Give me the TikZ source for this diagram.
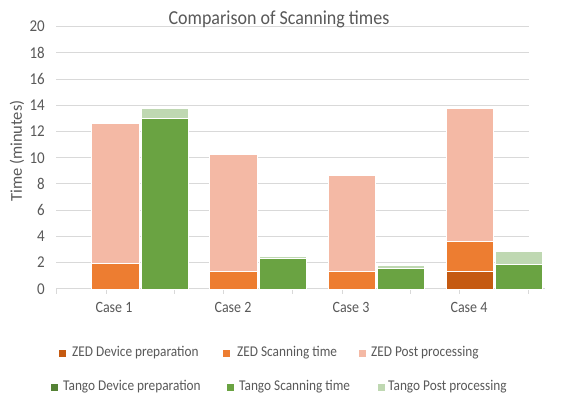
\documentclass[tikz,border=0pt]{standalone}
\usepackage{fontspec}
\setmainfont{Carlito}
\definecolor{txt}{HTML}{595959}
\definecolor{grid}{HTML}{D9D9D9}
\definecolor{zdev}{HTML}{C55A11}
\definecolor{zscan}{HTML}{ED7D31}
\definecolor{zpost}{HTML}{F4B9A5}
\definecolor{tdev}{HTML}{548235}
\definecolor{tscan}{HTML}{6AA342}
\definecolor{tpost}{HTML}{BFD8B2}
\tikzset{
  lblbase/.style={text=txt, inner sep=0pt},
  lbl/.style={lblbase, font=\fontsize{14}{16}\selectfont, yscale=1.12},
  ylbl/.style={lblbase, font=\fontsize{15}{17}\selectfont, yscale=1.1, anchor=east},
  leg/.style={lblbase, font=\fontsize{13.3}{15}\selectfont, yscale=1.12, anchor=west},
  legsq/.style={minimum size=7pt, inner sep=0pt},
  gridln/.style={draw=grid, line width=1pt},
  bar/.style={draw=white, line width=0.4pt}
}
\begin{document}
\begin{tikzpicture}[x=1pt,y=-1pt]
\useasboundingbox (0,0) rectangle (571,394);
\fill[white] (0,0) rectangle (571,394);
% gridlines and y labels
\begin{scope}[shift={(0,288.7)}, y=13.1pt]
  \foreach \v in {2,4,...,20} {\draw[gridln] (56,\v) -- (529,\v);}
  \foreach \v in {0,2,...,20} {\node[ylbl] (y\v) at (45,\v) {\v};}
  \draw[gridln] (56,0) -- (545,0);
  \foreach \t in {56,106,174,223,292,342,410,459,528} {\draw[gridln] (\t,0) -- (\t,-0.42);}
  % Case 1
  \fill[zscan,bar] (91,0) rectangle (139,1.94);
  \fill[zpost,bar] (91,1.94) rectangle (139,12.6);
  \fill[tscan,bar] (141,0) rectangle (188,13.03);
  \fill[tpost,bar] (141,13.03) rectangle (188,13.8);
  % Case 2
  \fill[zscan,bar] (209,0) rectangle (257,1.35);
  \fill[zpost,bar] (209,1.35) rectangle (257,10.26);
  \fill[tscan,bar] (259,0) rectangle (306,2.34);
  \fill[tpost,bar] (259,2.34) rectangle (306,2.47);
  % Case 3
  \fill[zscan,bar] (328,0) rectangle (375,1.35);
  \fill[zpost,bar] (328,1.35) rectangle (375,8.68);
  \fill[tscan,bar] (377,0) rectangle (424,1.6);
  \fill[tpost,bar] (377,1.6) rectangle (424,1.78);
  % Case 4
  \fill[zdev,bar] (446,0) rectangle (493,1.35);
  \fill[zscan,bar] (446,1.35) rectangle (493,3.59);
  \fill[zpost,bar] (446,3.59) rectangle (493,13.77);
  \fill[tscan,bar] (495,0) rectangle (542,1.86);
  \fill[tpost,bar] (495,1.86) rectangle (542,2.83);
\end{scope}
% title
\node[lblbase, font=\fontsize{18}{20}\selectfont, yscale=1.1] (title) at (279,19) {Comparison of Scanning times};
% y axis title
\node[lblbase, font=\fontsize{16.5}{18}\selectfont, rotate=90] (ytitle) at (17,151) {Time (minutes)};
% category labels
\node[lbl] (c1) at (114,307) {Case 1};
\node[lbl] (c2) at (233,307) {Case 2};
\node[lbl] (c3) at (351,307) {Case 3};
\node[lbl] (c4) at (469,307) {Case 4};
% legend
\node[legsq, fill=zdev] (s1) at (62,353) {};
\node[leg] (l1) at (72,353) {ZED Device preparation};
\node[legsq, fill=zscan] (s2) at (226,353) {};
\node[leg] (l2) at (237,353) {ZED Scanning time};
\node[legsq, fill=zpost] (s3) at (362,353) {};
\node[leg] (l3) at (371,353) {ZED Post processing};
\node[legsq, fill=tdev] (s4) at (54,387) {};
\node[leg] (l4) at (63,387) {Tango Device preparation};
\node[legsq, fill=tscan] (s5) at (230,387) {};
\node[leg] (l5) at (239,387) {Tango Scanning time};
\node[legsq, fill=tpost] (s6) at (381,387) {};
\node[leg] (l6) at (388,387) {Tango Post processing};
\end{tikzpicture}
\end{document}
